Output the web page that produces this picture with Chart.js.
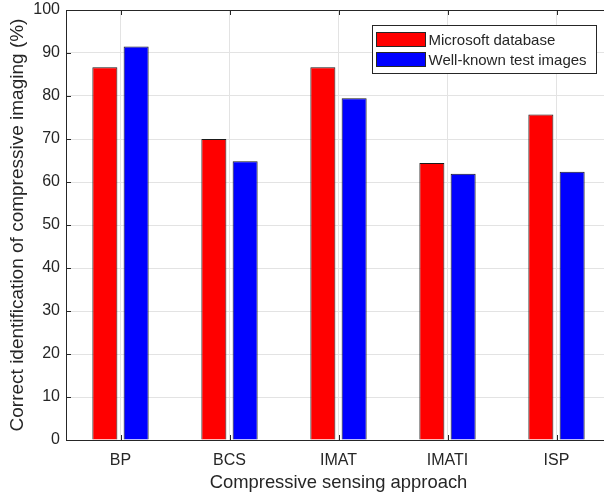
<!DOCTYPE html>
<html>
<head>
<meta charset="utf-8">
<script src="https://cdn.jsdelivr.net/npm/chart.js@4/dist/chart.umd.min.js"></script>
<style>
  html, body { margin: 0; padding: 0; overflow: hidden; background: #fff; }
  #wrap { width: 604px; height: 496px; overflow: hidden; }
</style>
</head>
<body>
<div id="wrap"><canvas id="bar_graph" width="630" height="496" style="width:630px;height:496px"></canvas></div>
<script>
// data
var categories = ["BP", "BCS", "IMAT", "IMATI", "ISP"];
var microsoftDb = [86.7, 70.0, 86.7, 64.4, 75.7];
var testImages = [91.5, 64.8, 79.5, 61.9, 62.4];
var seriesNames = ["Microsoft database", "Well-known test images"];
var yMin = 0, yMax = 100, yStep = 10;

var FONT = "'Liberation Sans', Arial, sans-serif";

// top line of the box with inward ticks (matlab look), right side is cut off
var boxPlugin = {
  id: "boxTicks",
  afterDatasetsDraw: function(chart) {
    var ctx = chart.ctx;
    var a = chart.chartArea;
    var xs = chart.scales.x, ys = chart.scales.y;
    ctx.save();
    ctx.strokeStyle = "#262626";
    ctx.lineWidth = 1;
    ctx.beginPath();
    ctx.moveTo(a.left, Math.round(a.top) + 0.5);
    ctx.lineTo(a.right, Math.round(a.top) + 0.5);
    ys.ticks.forEach(function(t) {
      var y = Math.round(ys.getPixelForValue(t.value)) + 0.5;
      ctx.moveTo(a.left, y); ctx.lineTo(a.left + 5, y);
    });
    for (var i = 0; i < categories.length; i++) {
      var x = Math.round(xs.getPixelForValue(i)) + 0.5;
      ctx.moveTo(x, a.bottom); ctx.lineTo(x, a.bottom - 5);
      ctx.moveTo(x, a.top); ctx.lineTo(x, a.top + 5);
    }
    ctx.stroke();
    ctx.restore();
  }
};

// legend box inside the plot, top right
var legendPlugin = {
  id: "boxLegend",
  afterDraw: function(chart) {
    var ctx = chart.ctx;
    var left = 372.5, top = 25.5, w = 224, h = 48;
    ctx.save();
    ctx.fillStyle = "#fff";
    ctx.fillRect(left, top, w, h);
    ctx.strokeStyle = "#262626";
    ctx.lineWidth = 1;
    ctx.strokeRect(left, top, w, h);
    ctx.font = "15px " + FONT;
    ctx.textBaseline = "middle";
    chart.data.datasets.forEach(function(ds, i) {
      var y = top + 14 + i * 20;
      ctx.fillStyle = ds.backgroundColor;
      ctx.fillRect(left + 4, y - 7, 49, 14);
      ctx.strokeStyle = "#262626";
      ctx.strokeRect(left + 4, y - 7, 49, 14);
      ctx.fillStyle = "#262626";
      ctx.fillText(ds.label, left + 56, y + 1);
    });
    ctx.restore();
  }
};

function printBarGraph() {
  var ctx = document.getElementById("bar_graph").getContext("2d");

  var barGraph = new Chart(ctx, {
    type: "bar",
    data: {
      labels: categories,
      datasets: [{
        label: seriesNames[0],
        data: microsoftDb,
        backgroundColor: "#ff0000",
        borderColor: "#1a1a1a",
        borderWidth: 1
      }, {
        label: seriesNames[1],
        data: testImages,
        backgroundColor: "#0000ff",
        borderColor: "#1a1a1a",
        borderWidth: 1
      }]
    },
    options: {
      responsive: false,
      animation: false,
      devicePixelRatio: 1,
      categoryPercentage: 0.574,
      barPercentage: 0.8,
      layout: { padding: { top: 10, right: 19, left: 0, bottom: 0 } },
      plugins: {
        legend: { display: false },
        tooltip: { enabled: false }
      },
      scales: {
        x: {
          grid: { color: "#e3e3e3", drawTicks: false, offset: false },
          border: { color: "#262626", width: 1 },
          ticks: { color: "#262626", font: { family: FONT, size: 16 }, padding: 11 },
          title: {
            display: true,
            text: "Compressive sensing approach",
            color: "#262626",
            font: { family: FONT, size: 18.4, lineHeight: 1 },
            padding: { top: 0, bottom: 4 }
          },
          afterFit: function(s) {
            s.height = 56;
            s.paddingLeft = 0;
            s.paddingRight = 0;
          }
        },
        y: {
          min: yMin,
          max: yMax,
          grid: { color: "#e3e3e3", drawTicks: false },
          border: { color: "#262626", width: 1 },
          ticks: { stepSize: yStep, color: "#262626", font: { family: FONT, size: 16 }, padding: 6 },
          title: {
            display: true,
            text: "Correct identification of compressive imaging (%)",
            color: "#262626",
            font: { family: FONT, size: 19, lineHeight: 1 },
            padding: { top: 8, bottom: 0 }
          },
          afterFit: function(s) {
            s.width = 66;
            s.paddingTop = 0;
            s.paddingBottom = 0;
          }
        }
      }
    },
    plugins: [boxPlugin, legendPlugin]
  });
}

printBarGraph();
</script>
</body>
</html>
